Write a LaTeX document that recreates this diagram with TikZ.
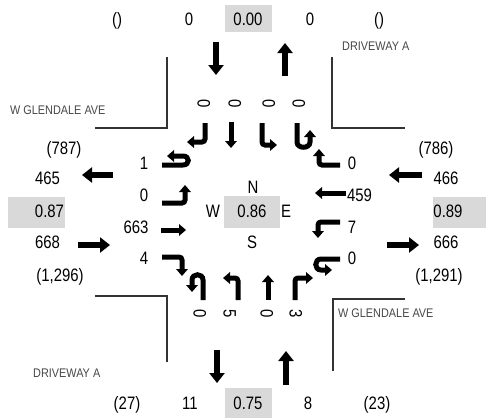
\documentclass[tikz,border=0pt]{standalone}
\usepackage{fontspec}
\setmainfont{Liberation Sans}
\newfontfamily\numf[FakeStretch=0.83]{Liberation Sans}
\newfontfamily\smallf[FakeStretch=0.87]{Liberation Sans}
\usetikzlibrary{arrows.meta}
\tikzset{
  big/.style={line width=6pt,-{Triangle[width=15pt,length=10pt]}},
  turn/.style={line width=5pt,rounded corners=3pt,-{Triangle[width=11.5pt,length=7pt]}},
  thru/.style={line width=5pt,-{Triangle[width=11.5pt,length=7pt]}},
  lbl/.style={inner sep=0pt,text height=13pt,text depth=0pt,font=\numf\fontsize{18}{20}\selectfont},
  rlbl/.style={lbl,rotate=-90},
  street/.style={inner sep=0pt,text height=9pt,text depth=0pt,font=\smallf\fontsize{12.5}{14}\selectfont,text=black!72},
  road/.style={line width=1.3pt,draw=black!80},
  gbox/.style={fill=gray!30,draw=none},
}
\begin{document}
\begin{tikzpicture}[x=1pt,y=-1pt]
\useasboundingbox (0,0) rectangle (486,418);
% gray boxes
\fill[gbox] (225,5) rectangle (272,32);
\fill[gbox] (225,388) rectangle (272,418);
\fill[gbox] (8,197) rectangle (65,228);
\fill[gbox] (433,197) rectangle (486,228);
\fill[gbox] (224,196) rectangle (280,228);
% road corners
\draw[road] (167,57) -- (167,128) -- (95,128);
\draw[road] (332,57) -- (332,128) -- (405,128);
\draw[road] (95,296) -- (167,296) -- (167,362);
\draw[road] (405,299) -- (333,299) -- (333,371);
% street names
\node[street,anchor=west] (dwn) at (342,46) {DRIVEWAY A};
\node[street,anchor=west] (wgl) at (10,110) {W GLENDALE AVE};
\node[street,anchor=west] (wgr) at (338,313) {W GLENDALE AVE};
\node[street,anchor=west] (dws) at (33,373) {DRIVEWAY A};
% top row
\node[lbl] (t1) at (117,19) {()};
\node[lbl] (t2) at (189,19) {0};
\node[lbl] (t3) at (248,19) {0.00};
\node[lbl] (t4) at (310,19) {0};
\node[lbl] (t5) at (379,19) {()};
% bottom row
\node[lbl] (b1) at (127,403) {(27)};
\node[lbl] (b2) at (190,403) {11};
\node[lbl] (b3) at (248,403) {0.75};
\node[lbl] (b4) at (308,403) {8};
\node[lbl] (b5) at (377,403) {(23)};
% left side
\node[lbl] (l1) at (64,148) {(787)};
\node[lbl] (l2) at (47.5,178) {465};
\node[lbl] (l3) at (49.5,211) {0.87};
\node[lbl] (l4) at (47.5,242) {668};
\node[lbl] (l5) at (60,275) {(1,296)};
% right side
\node[lbl] (r1) at (436,148) {(786)};
\node[lbl] (r2) at (446,178) {466};
\node[lbl] (r3) at (448,211) {0.89};
\node[lbl] (r4) at (446,242) {666};
\node[lbl] (r5) at (439,275) {(1,291)};
% center
\node[lbl] (cn) at (253,187) {N};
\node[lbl] (cw) at (213,211) {W};
\node[lbl] (cv) at (252,211) {0.86};
\node[lbl] (ce) at (286,211) {E};
\node[lbl] (cs) at (252,242) {S};
% left approach labels
\node[lbl] (la1) at (144,163) {1};
\node[lbl] (la2) at (144,195) {0};
\node[lbl] (la3) at (136,227) {663};
\node[lbl] (la4) at (144,258) {4};
% right approach labels
\node[lbl] (ra1) at (352,163) {0};
\node[lbl] (ra2) at (359.5,195) {459};
\node[lbl] (ra3) at (352,227) {7};
\node[lbl] (ra4) at (352,258) {0};
% top approach labels
\node[rlbl] (ta1) at (204,104) {0};
\node[rlbl] (ta2) at (235,104) {0};
\node[rlbl] (ta3) at (269,104) {0};
\node[rlbl] (ta4) at (299,104) {0};
% bottom approach labels
\node[rlbl] (ba1) at (200,314) {0};
\node[rlbl] (ba2) at (230,314) {5};
\node[rlbl] (ba3) at (267,314) {0};
\node[rlbl] (ba4) at (296,314) {3};
% big approach arrows
\draw[big] (216,42) -- (216,75);
\draw[big] (285,76) -- (285,43);
\draw[big] (217,350) -- (217,383);
\draw[big] (286,385) -- (286,351);
\draw[big] (113,175) -- (82,175);
\draw[big] (78,245) -- (110,245);
\draw[big] (422,175) -- (389,175);
\draw[big] (387,245) -- (419,245);
% left approach turn arrows
\draw[turn] (162,165) -- (180,165) .. controls (190,165) and (190,156) .. (180,156) -- (167,156);
\draw[turn] (162,203) -- (185,203) -- (185,185);
\draw[thru] (161,230) -- (186,230);
\draw[turn] (162,257) -- (182,257) -- (182,276);
% right approach turn arrows
\draw[turn] (340,165) -- (319,165) -- (319,149);
\draw[thru] (346,193) -- (315,193);
\draw[turn] (340,222) -- (318,222) -- (318,238);
\draw[turn] (340,259) -- (324,259) .. controls (314,259) and (314,270) .. (324,270) -- (332,270);
% top approach turn arrows
\draw[turn] (205,123) -- (205,142) -- (187,142);
\draw[thru] (231,122) -- (231,148);
\draw[turn] (262,123) -- (262,145) -- (277,145);
\draw[turn] (297,123) -- (297,139) .. controls (297,149) and (310,149) .. (310,139) -- (310,130);
% bottom approach turn arrows
\draw[turn] (203,300) -- (203,283) .. controls (203,273) and (192,273) .. (192,283) -- (192,292);
\draw[turn] (238,300) -- (238,278) -- (223,278);
\draw[thru] (268,300) -- (268,275);
\draw[turn] (295,300) -- (295,278) -- (313,278);
\end{tikzpicture}
\end{document}
